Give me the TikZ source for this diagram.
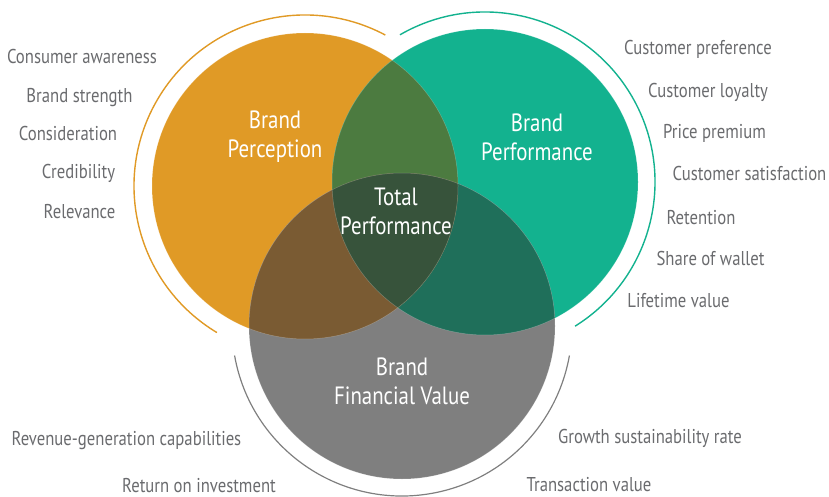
\documentclass[tikz,border=0pt]{standalone}
\usepackage{fontspec}
\setmainfont{PT Sans}[FakeStretch=0.835]
\usetikzlibrary{positioning}
\definecolor{percorange}{HTML}{E09A26}
\definecolor{perfgreen}{HTML}{13B28F}
\definecolor{valuegray}{HTML}{7F7F7F}
\definecolor{pfmix}{HTML}{4C7B40}
\definecolor{pvmix}{HTML}{7A5B33}
\definecolor{fvmix}{HTML}{1F6F5A}
\definecolor{allmix}{HTML}{37533B}
\definecolor{labelgray}{HTML}{6A6B6E}

\begin{document}
\begin{tikzpicture}[x=1pt,y=1pt,
    item/.style={anchor=base,inner sep=0pt,text=labelgray,font=\fontsize{20}{24}\selectfont},
    title/.style={align=center,inner sep=0pt,text=white,font=\fontsize{25}{29}\selectfont},
    ring/.style={line width=1.4pt}]
  \useasboundingbox (0,0) rectangle (829,496);
  \coordinate (cp) at (305,310);
  \coordinate (cf) at (485,314);
  \coordinate (cv) at (402,170);

  % the three circles
  \fill[percorange] (cp) circle (153pt);
  \fill[perfgreen] (cf) circle (153pt);
  \fill[valuegray] (cv) circle (153pt);
  % overlaps
  \begin{scope}
    \clip (cf) circle (153pt);
    \fill[fvmix] (cv) circle (153pt);
  \end{scope}
  \begin{scope}
    \clip (cp) circle (153pt);
    \fill[pfmix] (cf) circle (153pt);
    \fill[pvmix] (cv) circle (153pt);
    \clip (cf) circle (153pt);
    \fill[allmix] (cv) circle (153pt);
  \end{scope}
  \foreach \c in {cp,cf,cv}
    \draw[white,opacity=.25,line width=.5pt] (\c) circle (153pt);

  % outer rings
  \draw[ring,percorange] (cp) ++(62:171pt) arc[start angle=62,end angle=239,radius=171pt];
  \draw[ring,perfgreen] (cf) ++(120:170pt) arc[start angle=120,end angle=-58,radius=170pt];
  \draw[ring,valuegray,line width=1.2pt] (cv) ++(190:170pt) arc[start angle=190,end angle=350,radius=170pt];

  % circle titles
  \node[title] (perc) at (275,359) {Brand\\Perception};
  \node[title] (perf) at (537,359) {Brand\\Performance};
  \node[title] (total) at (396,285) {Total\\Performance};
  \node[title] (value) at (402,115) {Brand\\Financial Value};

  % perception items
  \node[item] (aware) at (82,432) {Consumer awareness};
  \node[item] (strength) at (79.5,393) {Brand strength};
  \node[item] (consid) at (68,355) {Consideration};
  \node[item] (cred) at (78.5,317) {Credibility};
  \node[item] (relev) at (79.5,278) {Relevance};

  % performance items
  \node[item] (pref) at (698,441) {Customer preference};
  \node[item] (loyal) at (708,398) {Customer loyalty};
  \node[item] (premium) at (714.5,357) {Price premium};
  \node[item] (satisf) at (749.5,315) {Customer satisfaction};
  \node[item] (retent) at (701,272) {Retention};
  \node[item] (wallet) at (710.5,231) {Share of wallet};
  \node[item] (lifetime) at (678.5,189) {Lifetime value};

  % financial value items
  \node[item] (revenue) at (126.5,51) {Revenue-generation capabilities};
  \node[item] (roi) at (199,4) {Return on investment};
  \node[item] (growth) at (650,53) {Growth sustainability rate};
  \node[item] (trans) at (589,5) {Transaction value};
\end{tikzpicture}
\end{document}
